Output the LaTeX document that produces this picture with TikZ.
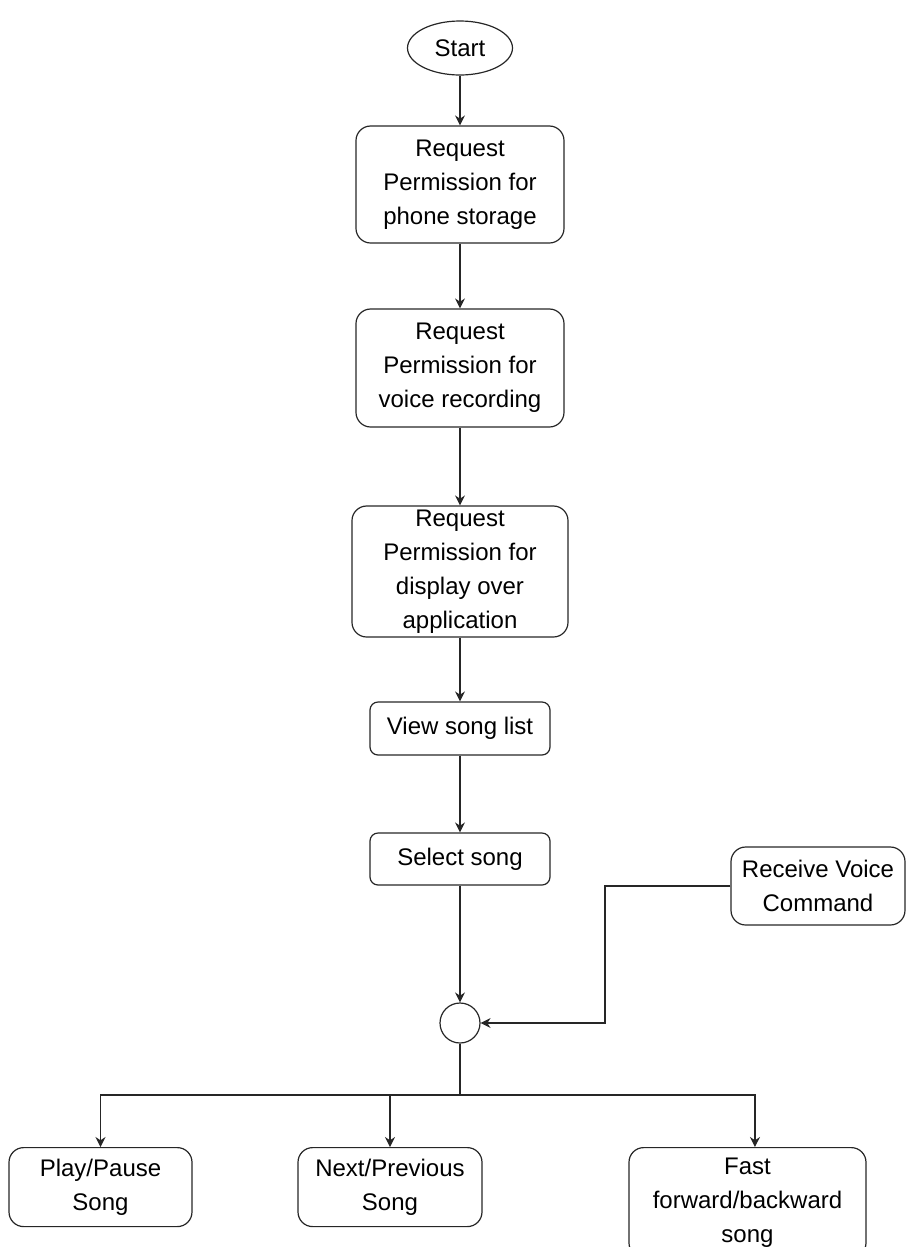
\documentclass[tikz,border=0pt]{standalone}
\usepackage{fontspec}
\setmainfont{Liberation Sans}
\usetikzlibrary{arrows.meta, shapes.geometric}

\begin{document}
\begin{tikzpicture}[x=0.75pt, y=-0.75pt, line width=0.9pt, draw=black!85, >={Stealth[length=7.5pt, width=7.5pt]}]
	\tikzstyle{action}   = [rectangle, rounded corners=11pt, draw=black!85, align=center, inner sep=0pt, font=\fontsize{18}{25.5}\selectfont]
	\tikzstyle{actionS}  = [action, rounded corners=6pt]
	\tikzstyle{terminal} = [ellipse, draw=black!85, inner sep=0pt, minimum width=78.75pt, minimum height=40.5pt, font=\fontsize{18}{25.5}\selectfont]
	\tikzstyle{junction} = [circle, draw=black!85, minimum size=30pt, inner sep=0pt]

	\useasboundingbox (0,0) rectangle (906,1247);

	\node[terminal] (start) at (460, 48) {Start};
	\node[action, minimum width=156pt, minimum height=87.75pt] (req1) at (460, 184.5) {Request\\Permission for\\phone storage};
	\node[action, minimum width=156pt, minimum height=88.5pt] (req2) at (460, 368) {Request\\Permission for\\voice recording};
	\node[action, minimum width=162pt, minimum height=98.25pt] (req3) at (460, 571.5) {Request\\Permission for\\display over\\application};
	\node[actionS, minimum width=135pt, minimum height=39.75pt] (view) at (460, 728.5) {View song list};
	\node[actionS, minimum width=135pt, minimum height=39pt] (select) at (460, 859) {Select song};
	\node[action, minimum width=130.5pt, minimum height=58.5pt] (voice) at (818, 886) {Receive Voice\\Command};
	\node[junction] (junc) at (460, 1023) {};

	\foreach \name/\text/\x/\w/\h in {play/{Play/Pause\\Song}/100.5/137.25/59.25, next/{Next/Previous\\Song}/390/138/59.25, fast/{Fast\\forward/backward\\song}/747.5/177.75/82.5}
		\node[action, minimum width=\w pt, minimum height=\h pt, anchor=north] (\name) at (\x, 1147) {\text};

	\foreach \from/\to in {start/req1, req1/req2, req2/req3, req3/view, view/select, select/junc}
		\draw[->] (\from) -- (\to);

	\coordinate (bend) at (605, 886);
	\coordinate (fork) at (460, 1095);
	\draw[->] (voice.west) -- (bend) |- (junc.east);
	\draw (junc) -- (fork);
	\draw[->] (fork) -| (play.north);
	\draw[->] (fork) -| (next.north);
	\draw[->] (fork) -| ([xshift=5.6pt]fast.north);

\end{tikzpicture}
\end{document}
